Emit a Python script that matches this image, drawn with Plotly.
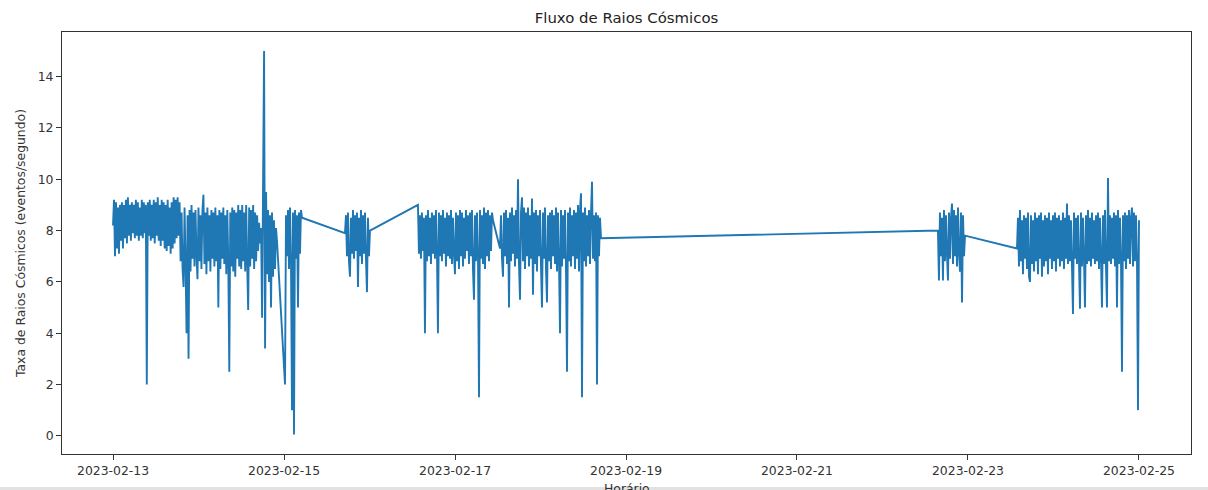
import pandas as pd
import plotly.graph_objects as go

# Cosmic-ray count rate (events/s), one list per acquisition run
run1_window = ("2023-02-13 00:00", "2023-02-14 22:02")
run1_rate = [
    8.2, 9.2, 7.0, 9.1, 7.3, 8.9, 7.1, 9.0, 7.6, 9.1,
    7.3, 9.0, 7.7, 9.2, 7.5, 9.3, 7.8, 9.0, 7.6, 9.1,
    7.9, 9.0, 7.7, 9.2, 7.8, 9.1, 7.6, 8.9, 7.8, 9.2,
    7.7, 9.1, 7.9, 9.0, 2.0, 9.1, 7.8, 9.2, 7.6, 9.0,
    7.7, 9.2, 7.5, 9.1, 7.8, 9.3, 7.6, 9.0, 7.4, 9.2,
    7.6, 9.1, 7.3, 9.0, 7.2, 9.2, 7.4, 8.9, 7.1, 9.1,
    7.3, 9.3, 7.5, 9.2, 7.7, 9.3, 7.8, 9.1, 6.8, 8.7,
    6.5, 5.8, 8.9, 6.7, 4.0, 8.6, 3.0, 8.8, 6.4, 9.0,
    6.9, 8.7, 6.6, 8.8, 7.0, 6.1, 8.9, 6.8, 8.6, 6.5,
    8.8, 9.4, 6.7, 8.7, 6.3, 8.9, 6.8, 8.6, 6.4, 8.8,
    6.9, 8.7, 6.6, 8.9, 6.8, 8.6, 5.0, 8.8, 6.5, 8.7,
    6.9, 8.9, 6.7, 8.6, 6.3, 8.8, 6.8, 2.5, 8.7, 6.6,
    8.9, 6.4, 8.8, 6.2, 8.7, 6.9, 9.0, 6.6, 8.8, 6.5,
    9.0, 6.8, 8.7, 6.4, 9.0, 6.7, 4.9, 8.9, 6.6, 8.8,
    6.9, 9.0, 6.5, 8.7, 6.8, 8.6, 7.2, 8.3, 7.5, 8.1,
    4.6, 9.8, 15.0, 3.4, 9.5, 6.3, 8.8, 6.0, 8.6, 5.0,
    8.7, 6.2, 8.4, 6.5, 8.1, 7.6,
]

run2_window = ("2023-02-15 00:17", "2023-02-15 05:03")
run2_rate = [
    2.0, 8.6, 7.0, 8.8, 6.5, 8.9, 6.8, 1.0, 8.7, 0.05,
    8.8, 6.9, 8.6, 5.0, 8.7, 7.1, 8.8, 8.5,
]

run3_window = ("2023-02-15 17:07", "2023-02-16 00:08")
run3_rate = [
    7.9, 8.6, 7.0, 8.7, 6.8, 6.2, 8.5, 7.1, 8.8, 6.9,
    8.6, 7.2, 8.7, 5.8, 8.5, 7.0, 8.8, 6.7, 8.6, 7.1,
    8.7, 6.9, 5.6, 8.5, 7.0, 8.0,
]

run4_window = ("2023-02-16 13:36", "2023-02-17 10:40")
run4_rate = [
    9.0, 7.1, 8.6, 6.9, 8.7, 7.2, 8.5, 4.0, 8.6, 6.8,
    8.8, 7.0, 8.5, 6.7, 8.7, 7.1, 8.6, 6.9, 8.8, 7.2,
    4.0, 8.7, 7.0, 8.6, 6.8, 8.8, 7.1, 8.5, 6.6, 8.7,
    7.0, 8.6, 6.9, 8.8, 6.7, 8.5, 7.1, 6.3, 8.7, 6.8,
    8.6, 6.5, 8.8, 7.0, 8.7, 6.6, 8.5, 6.9, 8.8, 7.2,
    8.6, 6.7, 8.7, 7.0, 8.8, 6.5, 5.3, 8.6, 6.8, 8.7,
    7.1, 1.5, 8.8, 6.9, 8.6, 6.7, 8.9, 6.5, 8.7, 7.0,
    8.8, 6.8, 8.6, 7.2, 8.7, 8.4,
]

run5_window = ("2023-02-17 12:38", "2023-02-18 16:59")
run5_rate = [
    7.3, 8.6, 6.9, 6.2, 8.7, 7.0, 8.8, 6.7, 8.5, 5.0,
    8.7, 6.8, 8.9, 7.1, 8.6, 6.6, 8.8, 6.9, 10.0, 6.7,
    5.3, 8.7, 9.3, 6.8, 8.9, 6.5, 8.7, 7.0, 8.9, 6.6,
    8.6, 6.9, 9.25, 5.5, 8.7, 6.7, 8.8, 6.4, 8.6, 7.0,
    8.8, 6.6, 5.0, 8.7, 6.9, 8.9, 6.5, 5.2, 8.6, 6.8,
    8.7, 6.5, 8.8, 7.0, 8.6, 6.7, 8.9, 6.4, 8.7, 6.8,
    4.0, 8.8, 6.6, 8.6, 6.9, 8.8, 6.5, 2.5, 8.7, 6.8,
    8.9, 6.6, 8.6, 7.0, 8.8, 6.5, 8.7, 6.9, 9.0, 6.4,
    8.8, 9.45, 1.5, 8.7, 6.8, 8.9, 6.6, 8.6, 7.0, 8.8,
    6.7, 8.7, 9.9, 6.9, 8.6, 6.8, 8.7, 2.0, 8.6, 7.0,
    8.5, 7.7,
]

run6_window = ("2023-02-22 15:34", "2023-02-22 23:10")
run6_rate = [
    8.0, 6.05, 8.7, 7.0, 8.5, 6.05, 8.8, 6.8, 8.6, 7.1,
    6.05, 8.7, 6.9, 8.5, 9.05, 6.7, 8.8, 7.0, 8.6, 6.6,
    8.9, 7.1, 6.4, 8.7, 5.2, 8.6, 7.0, 7.8,
]

run7_window = ("2023-02-23 13:45", "2023-02-25 00:00")
run7_rate = [
    7.3, 8.5, 6.6, 8.8, 6.8, 8.4, 6.3, 8.6, 6.9, 8.5,
    6.5, 8.7, 6.2, 6.0, 8.6, 6.7, 8.4, 6.4, 8.7, 6.8,
    8.5, 6.3, 8.6, 6.9, 8.7, 6.2, 8.4, 6.6, 8.6, 6.8,
    8.5, 6.3, 8.7, 6.9, 8.4, 6.5, 8.6, 6.8, 8.7, 6.4,
    8.5, 6.9, 8.6, 6.6, 8.4, 6.8, 8.7, 6.5, 8.5, 6.9,
    9.05, 6.7, 8.6, 6.8, 8.4, 6.6, 4.75, 8.7, 6.9, 8.5,
    6.7, 8.6, 6.8, 4.95, 8.7, 6.6, 8.5, 6.9, 5.0, 8.6,
    6.7, 8.8, 6.8, 8.5, 6.6, 8.7, 6.9, 8.4, 6.7, 8.6,
    6.8, 8.7, 6.5, 8.5, 6.9, 5.0, 8.6, 6.7, 8.8, 6.6,
    5.0, 10.05, 6.8, 8.6, 6.7, 8.5, 6.9, 8.7, 6.6, 8.6,
    5.0, 8.8, 6.7, 8.5, 6.9, 2.5, 8.6, 6.8, 8.7, 6.5,
    8.6, 6.9, 8.8, 6.7, 8.5, 8.9, 6.6, 8.7, 6.8, 8.6,
    6.9, 1.0, 8.4,
]

runs = [
    (run1_window, run1_rate),
    (run2_window, run2_rate),
    (run3_window, run3_rate),
    (run4_window, run4_rate),
    (run5_window, run5_rate),
    (run6_window, run6_rate),
    (run7_window, run7_rate),
]

x_tick_dates = ["2023-02-13", "2023-02-15", "2023-02-17", "2023-02-19",
                "2023-02-21", "2023-02-23", "2023-02-25"]
y_tick_values = [0, 2, 4, 6, 8, 10, 12, 14]

# Each run is sampled at a regular cadence between its start and end
times = []
rates = []
for (start, end), vals in runs:
    times.extend(pd.date_range(start, end, periods=len(vals)))
    rates.extend(vals)

fig = go.Figure(
    go.Scatter(
        x=times,
        y=rates,
        mode="lines",
        line=dict(color="#1f77b4", width=1.9, simplify=False),
        hoverinfo="skip",
    )
)

font_family = "DejaVu Sans, Liberation Sans, sans-serif"
label_font = dict(family=font_family, size=12.4, color="#333333")
axis_style = dict(
    showgrid=False,
    zeroline=False,
    showline=True,
    linecolor="#333333",
    linewidth=1,
    mirror=True,
    ticks="outside",
    ticklen=5,
    tickwidth=1,
    tickcolor="#333333",
    automargin=False,
    tickfont=label_font,
)

plot_h = 490 - 32 - 36

fig.update_layout(
    width=1208,
    height=490,
    margin=dict(l=62, r=17, t=32, b=36),
    paper_bgcolor="white",
    plot_bgcolor="white",
    showlegend=False,
    font=dict(family=font_family, color="#333333"),
    title=dict(
        text="Fluxo de Raios Cósmicos",
        x=0.5,
        xref="paper",
        xanchor="center",
        y=1 - 18 / 490,
        yref="container",
        yanchor="middle",
        font=dict(family=font_family, size=14.9, color="#222222"),
    ),
    xaxis=dict(
        axis_style,
        type="date",
        range=["2023-02-12 09:41", "2023-02-25 14:36"],
        tickvals=x_tick_dates,
        tickformat="%Y-%m-%d",
    ),
    yaxis=dict(
        axis_style,
        range=[-0.71, 15.74],
        tickvals=y_tick_values,
        title=dict(text="Taxa de Raios Cósmicos (eventos/segundo)", standoff=9,
                   font=label_font),
    ),
    # x-axis label sits at the lower edge of the figure
    annotations=[
        dict(
            text="Horário",
            xref="paper",
            yref="paper",
            x=0.5,
            y=-35 / plot_h,
            xanchor="center",
            yanchor="middle",
            showarrow=False,
            font=label_font,
        )
    ],
    shapes=[
        dict(
            type="rect",
            xref="paper",
            yref="paper",
            x0=-62 / 1129,
            x1=(1208 - 62) / 1129,
            y0=-33 / plot_h,
            y1=-37 / plot_h,
            line=dict(width=0),
            fillcolor="#e2e2e2",
            layer="below",
        )
    ],
)

fig.write_html("out.html", config={"displayModeBar": False})
